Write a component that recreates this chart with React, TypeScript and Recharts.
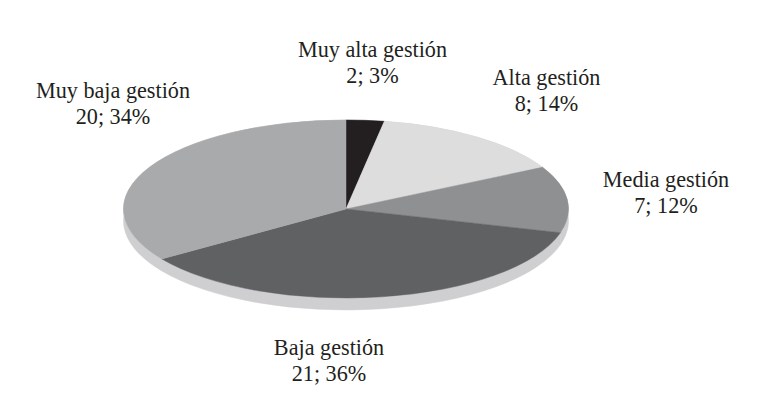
import React from 'react';
import { PieChart, Pie, Cell } from 'recharts';

const categories = ['Muy alta gestión', 'Alta gestión', 'Media gestión', 'Baja gestión', 'Muy baja gestión'];
const counts = [2, 8, 7, 21, 20];
const fills = ['#231f20', '#dddddd', '#8f9092', '#606163', '#a9aaac'];
const tableRows = categories.map((name, i) => ({ name, value: counts[i] }));

const W = 767, H = 398, CX = 346, CY = 209, RX = 222.5, TILT = 0.4, DEPTH = 12;
const LABEL_CENTERS: Record<string, [number, number]> = {
  'Muy alta gestión': [372.5, 57],
  'Alta gestión': [546.5, 85],
  'Media gestión': [666, 187],
  'Baja gestión': [329, 355],
  'Muy baja gestión': [113, 98],
};
const RAD = Math.PI / 180;
// Mild perspective: the far edge of the tilted disc is foreshortened next to 12 o'clock.
const persp = (a: number) => {
  const phi = ((90 - a) % 360 + 360) % 360;
  return a + 0.95 * phi * Math.exp(-phi / 8);
};
const pt = (cx: number, cy: number, r: number, a: number) => {
  const b = persp(a);
  return [cx + r * Math.cos(b * RAD), cy - r * TILT * Math.sin(b * RAD)];
};

function Top(p: any) {
  const { cx, cy, outerRadius: r, startAngle: s, endAngle: e, fill } = p;
  const [x1, y1] = pt(cx, cy, r, s), [x2, y2] = pt(cx, cy, r, e);
  const large = Math.abs(e - s) > 180 ? 1 : 0;
  return <path d={`M${cx},${cy}L${x1},${y1}A${r},${r * TILT} 0 ${large} 1 ${x2},${y2}Z`} fill={fill} stroke={fill} strokeWidth={0.5} />;
}
function Wall(p: any) {
  const { cx, cy, outerRadius: r, startAngle: s, endAngle: e } = p;
  const [x1, y1] = pt(cx, cy, r, s), [x2, y2] = pt(cx, cy, r, e);
  const large = Math.abs(e - s) > 180 ? 1 : 0;
  const ry = r * TILT;
  return <path d={`M${x1},${y1}A${r},${ry} 0 ${large} 1 ${x2},${y2}L${x2},${y2 + DEPTH}A${r},${ry} 0 ${large} 0 ${x1},${y1 + DEPTH}Z`} fill="#cfcfd1" stroke="#cfcfd1" strokeWidth={0.5} />;
}
function Label(p: any) {
  const c = LABEL_CENTERS[p.name];
  return (
    <text textAnchor="middle" fontFamily="'Liberation Serif', serif" fontSize={22.2} fill="#231f20">
      <tspan x={c[0]} y={c[1]}>{p.name}</tspan>
      <tspan x={c[0]} y={c[1] + 26}>{`${p.value}; ${Math.round(p.percent * 100)}%`}</tspan>
    </text>
  );
}

export default function App() {
  return (
    <div style={{ position: 'absolute', left: 0, top: 0, width: W, height: H, background: '#fff' }}>
      <PieChart width={W} height={H} margin={{ top: 0, right: 0, bottom: 0, left: 0 }}>
        <Pie data={tableRows} dataKey="value" nameKey="name" cx={CX} cy={CY} outerRadius={RX} startAngle={90} endAngle={-270}
          isAnimationActive={false} shape={Wall} stroke="none" label={false} />
        <Pie data={tableRows} dataKey="value" nameKey="name" cx={CX} cy={CY} outerRadius={RX} startAngle={90} endAngle={-270}
          isAnimationActive={false} shape={Top} stroke="none" label={Label} labelLine={false}>
          {tableRows.map((r, i) => <Cell key={r.name} fill={fills[i]} />)}
        </Pie>
      </PieChart>
    </div>
  );
}
